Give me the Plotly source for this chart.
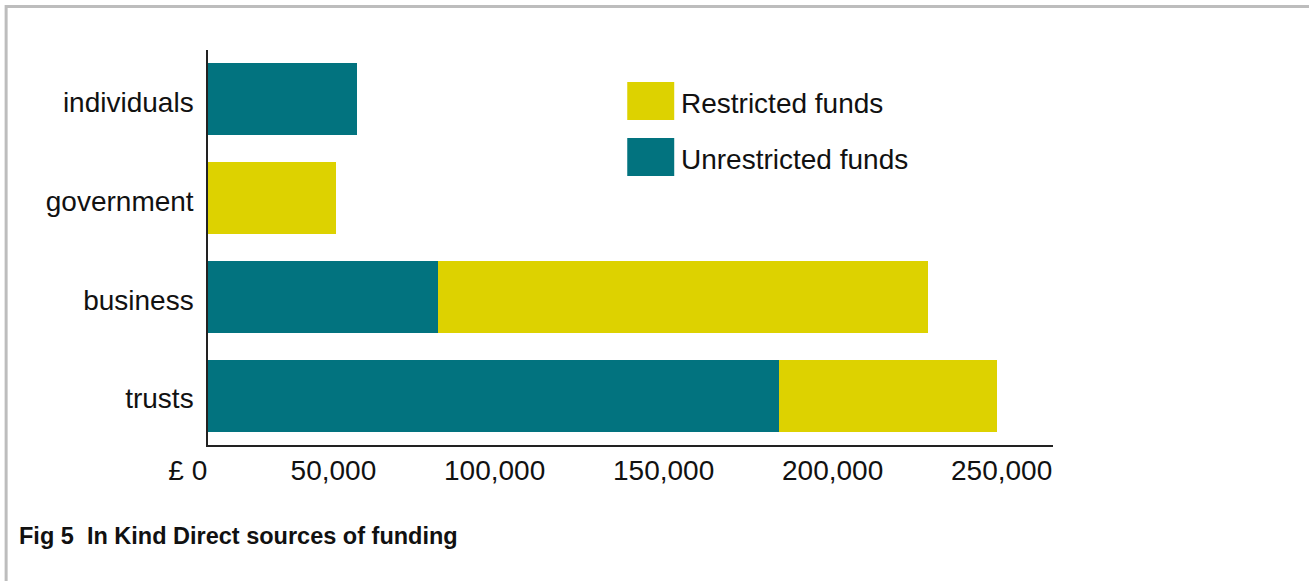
import plotly.graph_objects as go

# Funding sources, bottom to top
categories = ["trusts", "business", "government", "individuals"]
unrestricted = [169000, 68000, 0, 44000]
restricted = [64500, 145000, 38000, 0]

tick_values = [0, 50000, 100000, 150000, 200000, 250000]
tick_labels = ["£ 0", "50,000", "100,000", "150,000", "200,000", "250,000"]

TEAL = "#02737f"
YELLOW = "#ddd200"
FONT = "Liberation Sans, Arial, sans-serif"

W, H = 1309, 581
L, R, T, B = 207.5, 256, 50, 136.3
PW, PH = W - L - R, H - T - B


def px(x):
    return (x - L) / PW


def py(y):
    return (H - B - y) / PH


fig = go.Figure()
fig.add_trace(go.Bar(y=categories, x=unrestricted, orientation="h",
                     name="Unrestricted funds", marker=dict(color=TEAL, line=dict(width=0))))
fig.add_trace(go.Bar(y=categories, x=restricted, orientation="h",
                     name="Restricted funds", marker=dict(color=YELLOW, line=dict(width=0))))

# legend swatches and labels
for label, color, top in [("Restricted funds", YELLOW, 82), ("Unrestricted funds", TEAL, 138)]:
    fig.add_shape(type="rect", xref="paper", yref="paper",
                  x0=px(627), x1=px(674), y0=py(top + 38), y1=py(top),
                  fillcolor=color, line=dict(width=0))
    fig.add_annotation(xref="paper", yref="paper", x=px(679), y=py(top + 21),
                       xanchor="left", yanchor="middle", text=label, showarrow=False,
                       font=dict(family=FONT, size=28, color="#111111"))

# caption
fig.add_annotation(xref="paper", yref="paper", x=px(16), y=py(536),
                   xanchor="left", yanchor="middle", showarrow=False,
                   text="<b>Fig 5  In Kind Direct sources of funding</b>",
                   font=dict(family=FONT, size=23.5, color="#111111"))

# frame along the left and top edges
fig.add_shape(type="path", xref="paper", yref="paper",
              path=f"M {px(5.5)} {py(H + 5)} L {px(5.5)} {py(6.5)} L {px(W + 5)} {py(6.5)}",
              line=dict(color="#bdbdbd", width=3))

fig.update_layout(
    width=W, height=H,
    margin=dict(l=L, r=R, t=T, b=B, pad=0),
    barmode="stack", bargap=0.27,
    showlegend=False,
    plot_bgcolor="white", paper_bgcolor="white",
    font=dict(family=FONT, size=28, color="#111111"),
)
fig.update_xaxes(range=[0, 250000], tickvals=tick_values, ticktext=tick_labels,
                 ticklabelposition="outside left", ticks="", showgrid=False, zeroline=False,
                 showline=True, linecolor="#222222", linewidth=1.5,
                 tickfont=dict(family=FONT, size=28, color="#111111"))
fig.update_yaxes(range=[-0.5, 3.5], ticks="", showgrid=False, zeroline=False,
                 showline=True, linecolor="#222222", linewidth=1.5,
                 ticklabelstandoff=7, ticklabelshift=3,
                 tickfont=dict(family=FONT, size=28, color="#111111"))

fig.write_html("out.html")
